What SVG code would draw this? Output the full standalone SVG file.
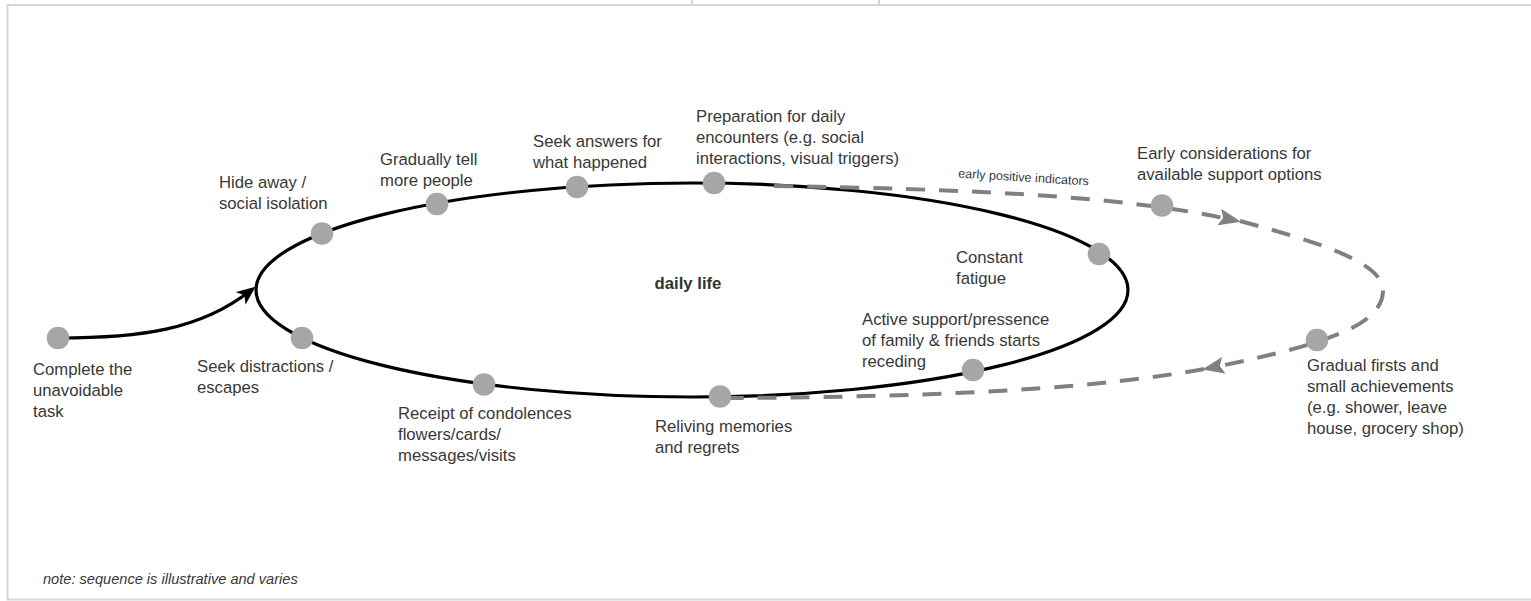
<svg xmlns="http://www.w3.org/2000/svg" width="1531" height="601" viewBox="0 0 1531 601">
  <style>
    .lbl { font-family: "Liberation Sans", Arial, Helvetica, sans-serif; font-size: 16.7px; fill: #383838; }
    .small { font-family: "Liberation Sans", Arial, Helvetica, sans-serif; font-size: 12.6px; fill: #383838; }
    .note { font-family: "Liberation Sans", Arial, Helvetica, sans-serif; font-size: 14.6px; font-style: italic; fill: #383838; }
    .bold { font-family: "Liberation Sans", Arial, Helvetica, sans-serif; font-size: 16.7px; font-weight: bold; fill: #333333; }
    .dot { fill: #a6a6a6; stroke: none; }
    .main { fill: none; stroke: #000000; stroke-width: 3.2; }
    .dash { fill: none; stroke: #808080; stroke-width: 4; stroke-dasharray: 19 14; }
    .frame { fill: none; stroke: #d6d6d6; stroke-width: 2; }
  </style>
  <defs>
    <marker id="ab" markerUnits="userSpaceOnUse" markerWidth="19" markerHeight="16" viewBox="0 0 19 16" refX="12" refY="8" orient="auto">
      <path d="M0,0 L19,8 L0,16 L5,8 z" fill="#000000"/>
    </marker>
    <marker id="ag" markerUnits="userSpaceOnUse" markerWidth="22" markerHeight="17" viewBox="0 0 22 17" refX="14" refY="8.5" orient="auto">
      <path d="M0,0 L22,8.5 L0,17 L4,8.5 z" fill="#808080"/>
    </marker>
  </defs>
  <rect x="0" y="0" width="1531" height="601" fill="#ffffff"/>

  <!-- frame -->
  <g id="frame">
    <path class="frame" d="M1533,5 H7.5 V599.5 H1533"/>
    <path class="frame" d="M692,0 V5 M879,0 V5" stroke-width="1.5"/>
  </g>

  <!-- daily life loop -->
  <g id="daily-life">
    <ellipse class="main" cx="692" cy="290" rx="436" ry="107"/>
    <text class="bold" x="688" y="289" text-anchor="middle">daily life</text>
  </g>

  <!-- connectors -->
  <g id="connectors">
    <path class="main" d="M58,338 C140,338 200,330 250,291" marker-end="url(#ab)"/>
    <path class="dash" d="M774,186 C960,189 1120,195 1233,220" marker-end="url(#ag)"/>
    <path class="dash" d="M1240,221 C1330,245 1385,265 1383,292 C1381,322 1340,342 1210,368" marker-end="url(#ag)"/>
    <path class="dash" d="M1204,369 C1100,388 950,397 727,398"/>
    <text class="small" x="958" y="177.5" transform="rotate(3.5 958 177.5)">early positive indicators</text>
  </g>

  <!-- nodes -->
  <g id="n-complete">
    <circle class="dot" cx="58" cy="338" r="11.3"/>
    <text class="lbl" x="33" y="375">Complete the</text>
    <text class="lbl" x="33" y="396">unavoidable</text>
    <text class="lbl" x="33" y="417">task</text>
  </g>
  <g id="n-hide">
    <circle class="dot" cx="322" cy="233.5" r="11.3"/>
    <text class="lbl" x="219" y="188">Hide away /</text>
    <text class="lbl" x="219" y="209">social isolation</text>
  </g>
  <g id="n-tell">
    <circle class="dot" cx="437" cy="204" r="11.3"/>
    <text class="lbl" x="380" y="165">Gradually tell</text>
    <text class="lbl" x="380" y="186">more people</text>
  </g>
  <g id="n-answers">
    <circle class="dot" cx="577" cy="187" r="11.3"/>
    <text class="lbl" x="533" y="147">Seek answers for</text>
    <text class="lbl" x="533" y="168">what happened</text>
  </g>
  <g id="n-prep">
    <circle class="dot" cx="714" cy="183" r="11.3"/>
    <text class="lbl" x="696" y="122">Preparation for daily</text>
    <text class="lbl" x="696" y="143">encounters (e.g. social</text>
    <text class="lbl" x="696" y="164">interactions, visual triggers)</text>
  </g>
  <g id="n-early">
    <circle class="dot" cx="1162" cy="205.5" r="11.3"/>
    <text class="lbl" x="1137" y="159">Early considerations for</text>
    <text class="lbl" x="1137" y="180">available support options</text>
  </g>
  <g id="n-fatigue">
    <circle class="dot" cx="1099" cy="254" r="11.3"/>
    <text class="lbl" x="956" y="263">Constant</text>
    <text class="lbl" x="956" y="284">fatigue</text>
  </g>
  <g id="n-gradual">
    <circle class="dot" cx="1317" cy="340" r="11.3"/>
    <text class="lbl" x="1307" y="371">Gradual firsts and</text>
    <text class="lbl" x="1307" y="392">small achievements</text>
    <text class="lbl" x="1307" y="413">(e.g. shower, leave</text>
    <text class="lbl" x="1307" y="434">house, grocery shop)</text>
  </g>
  <g id="n-active">
    <circle class="dot" cx="973" cy="370" r="11.3"/>
    <text class="lbl" x="862" y="325">Active support/pressence</text>
    <text class="lbl" x="862" y="346">of family &amp; friends starts</text>
    <text class="lbl" x="862" y="367">receding</text>
  </g>
  <g id="n-reliving">
    <circle class="dot" cx="720" cy="396.5" r="11.3"/>
    <text class="lbl" x="655" y="432">Reliving memories</text>
    <text class="lbl" x="655" y="453">and regrets</text>
  </g>
  <g id="n-receipt">
    <circle class="dot" cx="484" cy="384.5" r="11.3"/>
    <text class="lbl" x="398" y="419">Receipt of condolences</text>
    <text class="lbl" x="398" y="440">flowers/cards/</text>
    <text class="lbl" x="398" y="461">messages/visits</text>
  </g>
  <g id="n-distract">
    <circle class="dot" cx="302" cy="338" r="11.3"/>
    <text class="lbl" x="197" y="372">Seek distractions /</text>
    <text class="lbl" x="197" y="393">escapes</text>
  </g>

  <text class="note" x="43" y="584">note: sequence is illustrative and varies</text>
</svg>
